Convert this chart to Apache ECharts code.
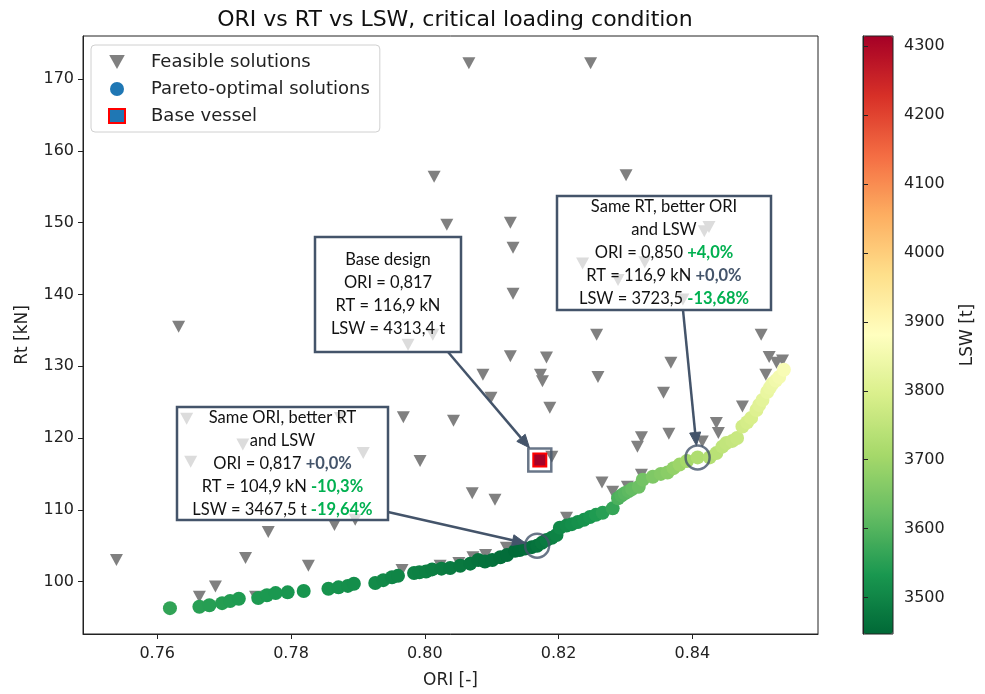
<!DOCTYPE html>
<html>
<head>
<meta charset="utf-8">
<script src="https://cdn.jsdelivr.net/npm/echarts@6.0.0/dist/echarts.min.js"></script>
<style>
  html, body { margin: 0; padding: 0; background: #fff; }
  #chart { width: 985px; height: 694px; }
</style>
</head>
<body>
<div id="chart"></div>
<script>
// Feasible solutions (gray down triangles)
const feasibleOri = [0.7539, 0.7632, 0.8014, 0.8033, 0.8066, 0.8248, 0.8301, 0.8128, 0.8132, 0.8132,
  0.8257, 0.8503, 0.8425, 0.8418, 0.8236, 0.8329, 0.8289, 0.8386, 0.7975, 0.8012,
  0.7644, 0.7650, 0.7728, 0.7874, 0.7908, 0.7968, 0.8043, 0.7993, 0.7766, 0.7865,
  0.7896, 0.7732, 0.7826, 0.7687, 0.7663, 0.7747, 0.7966, 0.8023, 0.8128, 0.8182,
  0.8087, 0.8173, 0.8176, 0.8099, 0.8187, 0.8190, 0.8071, 0.8105, 0.8212, 0.8122,
  0.8091, 0.8072, 0.8051, 0.8515, 0.8535, 0.8526, 0.8368, 0.8259, 0.8510, 0.8357,
  0.8475, 0.8436, 0.8439, 0.8365, 0.8324, 0.8318, 0.8415, 0.8265, 0.8281, 0.8303,
  0.8324];
const feasibleRt = [103.0, 135.5, 156.4, 149.7, 172.2, 172.2, 156.6, 150.0, 146.5, 140.1,
  134.4, 134.4, 149.4, 148.8, 144.3, 144.5, 142.0, 139.3, 133.0, 134.4,
  122.7, 116.7, 119.1, 122.8, 117.9, 122.9, 122.4, 116.8, 106.9, 107.9,
  108.6, 103.3, 102.2, 99.3, 97.9, 97.9, 101.6, 102.2, 131.4, 131.2,
  128.8, 128.8, 127.9, 125.6, 124.2, 117.4, 112.3, 111.4, 108.9, 104.7,
  103.7, 103.4, 102.6, 131.3, 130.8, 130.5, 130.5, 128.5, 128.8, 126.3,
  124.4, 122.1, 120.7, 120.6, 120.1, 118.8, 119.5, 113.8, 112.5, 113.2,
  114.9];

// Pareto-optimal solutions, coloured by LSW
const paretoOri = [0.7619, 0.7663, 0.7678, 0.7697, 0.7709, 0.7722, 0.7751, 0.7764, 0.7777, 0.7795,
  0.7819, 0.7856, 0.7871, 0.7885, 0.7894, 0.7926, 0.7938, 0.7951, 0.7960, 0.7984,
  0.7992, 0.8002, 0.8011, 0.8025, 0.8038, 0.8053, 0.8068, 0.8080, 0.8090, 0.8101,
  0.8113, 0.8123, 0.8135, 0.8142, 0.8150, 0.8160, 0.8168, 0.8175, 0.8182, 0.8190,
  0.8197, 0.8202, 0.8212, 0.8220, 0.8229, 0.8238, 0.8247, 0.8256, 0.8266, 0.8281,
  0.8289, 0.8294, 0.8299, 0.8305, 0.8310, 0.8320, 0.8326, 0.8341, 0.8353, 0.8363,
  0.8372, 0.8381, 0.8392, 0.8408, 0.8426, 0.8436, 0.8445, 0.8451, 0.8460, 0.8467,
  0.8475, 0.8482, 0.8488, 0.8496, 0.8500, 0.8505, 0.8512, 0.8516, 0.8520, 0.8525,
  0.8530, 0.8537];
const paretoRt = [96.3, 96.5, 96.7, 97.0, 97.3, 97.6, 97.7, 98.1, 98.4, 98.5,
  98.7, 99.0, 99.2, 99.4, 99.7, 99.8, 100.2, 100.6, 100.8, 101.2,
  101.3, 101.4, 101.7, 101.8, 101.9, 102.2, 102.5, 103.0, 102.8, 103.0,
  103.4, 103.7, 104.3, 104.4, 104.6, 104.8, 105.0, 105.4, 105.8, 106.1,
  106.5, 107.5, 107.8, 108.0, 108.3, 108.6, 109.0, 109.3, 109.6, 110.2,
  111.6, 112.0, 112.3, 112.6, 112.9, 113.2, 114.2, 114.6, 115.0, 115.2,
  115.8, 116.3, 116.8, 117.3, 117.3, 117.9, 118.8, 119.3, 119.6, 120.0,
  121.6, 122.2, 122.8, 123.9, 124.6, 125.3, 126.4, 127.0, 127.6, 128.0,
  128.5, 129.5];
const paretoLsw = [3560, 3550, 3548, 3545, 3543, 3540, 3538, 3535, 3533, 3530,
  3528, 3524, 3522, 3518, 3515, 3510, 3506, 3502, 3500, 3494,
  3492, 3490, 3486, 3483, 3480, 3476, 3472, 3467, 3465, 3463,
  3459, 3456, 3452, 3452, 3455, 3460, 3467, 3473, 3480, 3488,
  3495, 3505, 3510, 3515, 3520, 3525, 3530, 3540, 3550, 3565,
  3590, 3598, 3605, 3612, 3620, 3630, 3640, 3655, 3662, 3670,
  3682, 3695, 3708, 3723, 3730, 3740, 3750, 3755, 3760, 3765,
  3780, 3788, 3795, 3805, 3812, 3820, 3830, 3835, 3840, 3848,
  3855, 3865];

// Base vessel
const baseOri = [0.8172];
const baseRt = [116.95];
const baseLsw = [4313.4];

// Highlighted designs (open circles)
const highlightOri = [0.8168, 0.8408];
const highlightRt = [105.0, 117.3];

// Tick labels
const xTicks = [0.76, 0.78, 0.80, 0.82, 0.84];
const yTicks = [100, 110, 120, 130, 140, 150, 160, 170];
const lswTicks = [3500, 3600, 3700, 3800, 3900, 4000, 4100, 4200, 4300];

// RdYlGn reversed
const rdylgnR = ['#006837', '#1a9850', '#66bd63', '#a6d96a', '#d9ef8b', '#ffffbf',
  '#fee08b', '#fdae61', '#f46d43', '#d73027', '#a50026'];

const SLATE = '#44546a';
const GREEN = '#00b050';
const triPath = 'path://M0,0 L20,0 L10,18 Z';

const chart = echarts.init(document.getElementById('chart'));

const axisFont = { fontFamily: 'DejaVu Sans', fontSize: 16, color: '#222' };

chart.setOption({
  animation: false,
  backgroundColor: '#fff',
  title: {
    text: 'ORI vs RT vs LSW, critical loading condition',
    left: 450, top: 4, textAlign: 'center',
    textStyle: { fontFamily: 'DejaVu Sans', fontSize: 22, fontWeight: 'normal', color: '#111' }
  },
  legend: {
    orient: 'vertical',
    left: 91, top: 45,
    padding: [7, 10, 6, 17],
    itemWidth: 16, itemHeight: 14, itemGap: 7,
    backgroundColor: '#fff',
    borderColor: '#d0d0d0', borderWidth: 1, borderRadius: 4,
    textStyle: { fontFamily: 'DejaVu Sans', fontSize: 18, color: '#222', lineHeight: 20, padding: [0, 0, 0, 21] },
    data: [
      { name: 'Feasible solutions', icon: triPath },
      { name: 'Pareto-optimal solutions', icon: 'circle' },
      { name: 'Base vessel', icon: 'rect' }
    ]
  },
  grid: [
    { left: 83, top: 36, right: 167, bottom: 60, show: true, borderColor: '#222', borderWidth: 1 },
    { left: 863, top: 36, width: 30, height: 598, show: true, borderColor: '#222', borderWidth: 1, backgroundColor: 'transparent', z: 10 }
  ],
  xAxis: [
    {
      gridIndex: 0, type: 'value', min: 0.7489, max: 0.8588,
      name: 'ORI [-]', nameLocation: 'middle', nameGap: 38,
      nameTextStyle: { fontFamily: 'DejaVu Sans', fontSize: 17, color: '#222' },
      axisLine: { show: true, lineStyle: { color: '#222' } },
      axisTick: { show: true, customValues: xTicks, length: 5, lineStyle: { color: '#222' } },
      axisLabel: Object.assign({ customValues: xTicks, margin: 12, formatter: v => v.toFixed(2) }, axisFont),
      splitLine: { show: false }
    },
    {
      gridIndex: 1, type: 'value', show: false, min: 0, max: 1
    }
  ],
  yAxis: [
    {
      gridIndex: 0, type: 'value', min: 92.7, max: 176.0,
      name: 'Rt [kN]', nameLocation: 'middle', nameGap: 52, nameRotate: 90,
      nameTextStyle: { fontFamily: 'DejaVu Sans', fontSize: 17, color: '#222' },
      axisLine: { show: true, lineStyle: { color: '#222' } },
      axisTick: { show: true, customValues: yTicks, length: 5, lineStyle: { color: '#222' } },
      axisLabel: Object.assign({ customValues: yTicks, margin: 9, formatter: v => String(Math.round(v)) }, axisFont),
      splitLine: { show: false }
    },
    {
      gridIndex: 1, type: 'value', position: 'right', min: 3447, max: 4315,
      name: 'LSW [t]', nameLocation: 'middle', nameGap: 66, nameRotate: 90,
      nameTextStyle: { fontFamily: 'DejaVu Sans', fontSize: 17, color: '#222' },
      axisLine: { show: true, lineStyle: { color: '#222' } },
      axisTick: { show: true, customValues: lswTicks, length: 5, lineStyle: { color: '#222' } },
      axisLabel: Object.assign({ customValues: lswTicks, margin: 11, formatter: v => String(Math.round(v)) }, axisFont),
      splitLine: { show: false },
      z: 10
    }
  ],
  visualMap: {
    type: 'continuous',
    min: 3447, max: 4315,
    dimension: 2,
    seriesIndex: [1, 2],
    inRange: { color: rdylgnR },
    calculable: false,
    left: 863, top: 36,
    itemWidth: 30, itemHeight: 598,
    padding: 0,
    text: null,
    hoverLink: false
  },
  series: [
    {
      name: 'Feasible solutions',
      type: 'scatter',
      xAxisIndex: 0, yAxisIndex: 0,
      symbol: triPath,
      symbolSize: [13, 12],
      itemStyle: { color: '#808080', opacity: 1 },
      data: feasibleOri.map((x, i) => [x, feasibleRt[i]]),
      z: 2
    },
    {
      name: 'Pareto-optimal solutions',
      type: 'scatter',
      xAxisIndex: 0, yAxisIndex: 0,
      symbol: 'circle',
      symbolSize: 14,
      itemStyle: { color: '#1f77b4', opacity: 1 },
      data: paretoOri.map((x, i) => [x, paretoRt[i], paretoLsw[i]]),
      z: 3
    },
    {
      name: 'Base vessel',
      type: 'scatter',
      xAxisIndex: 0, yAxisIndex: 0,
      symbol: 'rect',
      symbolSize: 13,
      itemStyle: { color: '#1f77b4', borderColor: '#ff0000', borderWidth: 2, opacity: 1 },
      data: baseOri.map((x, i) => [x, baseRt[i], baseLsw[i]]),
      z: 4
    },
    {
      name: 'base frame',
      type: 'scatter',
      xAxisIndex: 0, yAxisIndex: 0,
      symbol: 'rect',
      symbolSize: 23,
      silent: true,
      itemStyle: { color: 'rgba(0,0,0,0)', borderColor: SLATE, borderWidth: 2.5 },
      data: baseOri.map((x, i) => [x, baseRt[i]]),
      z: 5
    },
    {
      name: 'highlight',
      type: 'scatter',
      xAxisIndex: 0, yAxisIndex: 0,
      symbol: 'circle',
      symbolSize: 24,
      silent: true,
      itemStyle: { color: 'rgba(0,0,0,0)', borderColor: SLATE, borderWidth: 2.5 },
      data: highlightOri.map((x, i) => [x, highlightRt[i]]),
      z: 5
    }
  ]
});

// Annotations: boxes with text and arrows pointing to the data points
function box(x, y, w, h, text) {
  return [
    {
      type: 'rect', z: 100,
      shape: { x: x, y: y, width: w, height: h },
      style: { fill: 'rgba(255,255,255,0.72)', stroke: SLATE, lineWidth: 2.5 }
    },
    {
      type: 'text', z: 101,
      x: x + w / 2, y: y + h / 2,
      style: {
        text: text,
        align: 'center', verticalAlign: 'middle',
        fontFamily: 'Lato', fontSize: 16.5, lineHeight: 23, fill: '#111',
        rich: {
          g: { fill: GREEN, fontWeight: 'bold', fontFamily: 'Lato', fontSize: 16.5, lineHeight: 23 },
          s: { fill: SLATE, fontWeight: 'bold', fontFamily: 'Lato', fontSize: 16.5, lineHeight: 23 }
        }
      }
    }
  ];
}

function arrow(x1, y1, target, shrink) {
  const dx = target[0] - x1, dy = target[1] - y1;
  const len = Math.sqrt(dx * dx + dy * dy);
  const ux = dx / len, uy = dy / len;
  const tx = target[0] - ux * shrink, ty = target[1] - uy * shrink;
  const hl = 13, hw = 5.5;
  const bx = tx - ux * hl, by = ty - uy * hl;
  return [
    {
      type: 'line', z: 99,
      shape: { x1: x1, y1: y1, x2: bx, y2: by },
      style: { stroke: SLATE, lineWidth: 2.5 }
    },
    {
      type: 'polygon', z: 99,
      shape: { points: [[tx, ty], [bx - uy * hw, by + ux * hw], [bx + uy * hw, by - ux * hw]] },
      style: { fill: SLATE, stroke: SLATE, lineWidth: 1 }
    }
  ];
}

const pBase = chart.convertToPixel({ gridIndex: 0 }, [baseOri[0], baseRt[0]]);
const pLeft = chart.convertToPixel({ gridIndex: 0 }, [highlightOri[0], highlightRt[0]]);
const pRight = chart.convertToPixel({ gridIndex: 0 }, [highlightOri[1], highlightRt[1]]);

const elements = []
  .concat(box(315, 237, 146, 115, 'Base design\nORI = 0,817\nRT = 116,9 kN\nLSW = 4313,4 t'))
  .concat(box(557, 196, 214, 114, 'Same RT, better ORI\nand LSW\nORI = 0,850 {g|+4,0%}\nRT = 116,9 kN {s|+0,0%}\nLSW = 3723,5 {g|-13,68%}'))
  .concat(box(177, 407, 211, 113, 'Same ORI, better RT\nand LSW\nORI = 0,817 {s|+0,0%}\nRT = 104,9 kN {g|-10,3%}\nLSW = 3467,5 t {g|-19,64%}'))
  .concat(arrow(448, 352, pBase, 16))
  .concat(arrow(683, 310, pRight, 12))
  .concat(arrow(388, 512, pLeft, 12));

chart.setOption({ graphic: { elements: elements } });
</script>
</body>
</html>
